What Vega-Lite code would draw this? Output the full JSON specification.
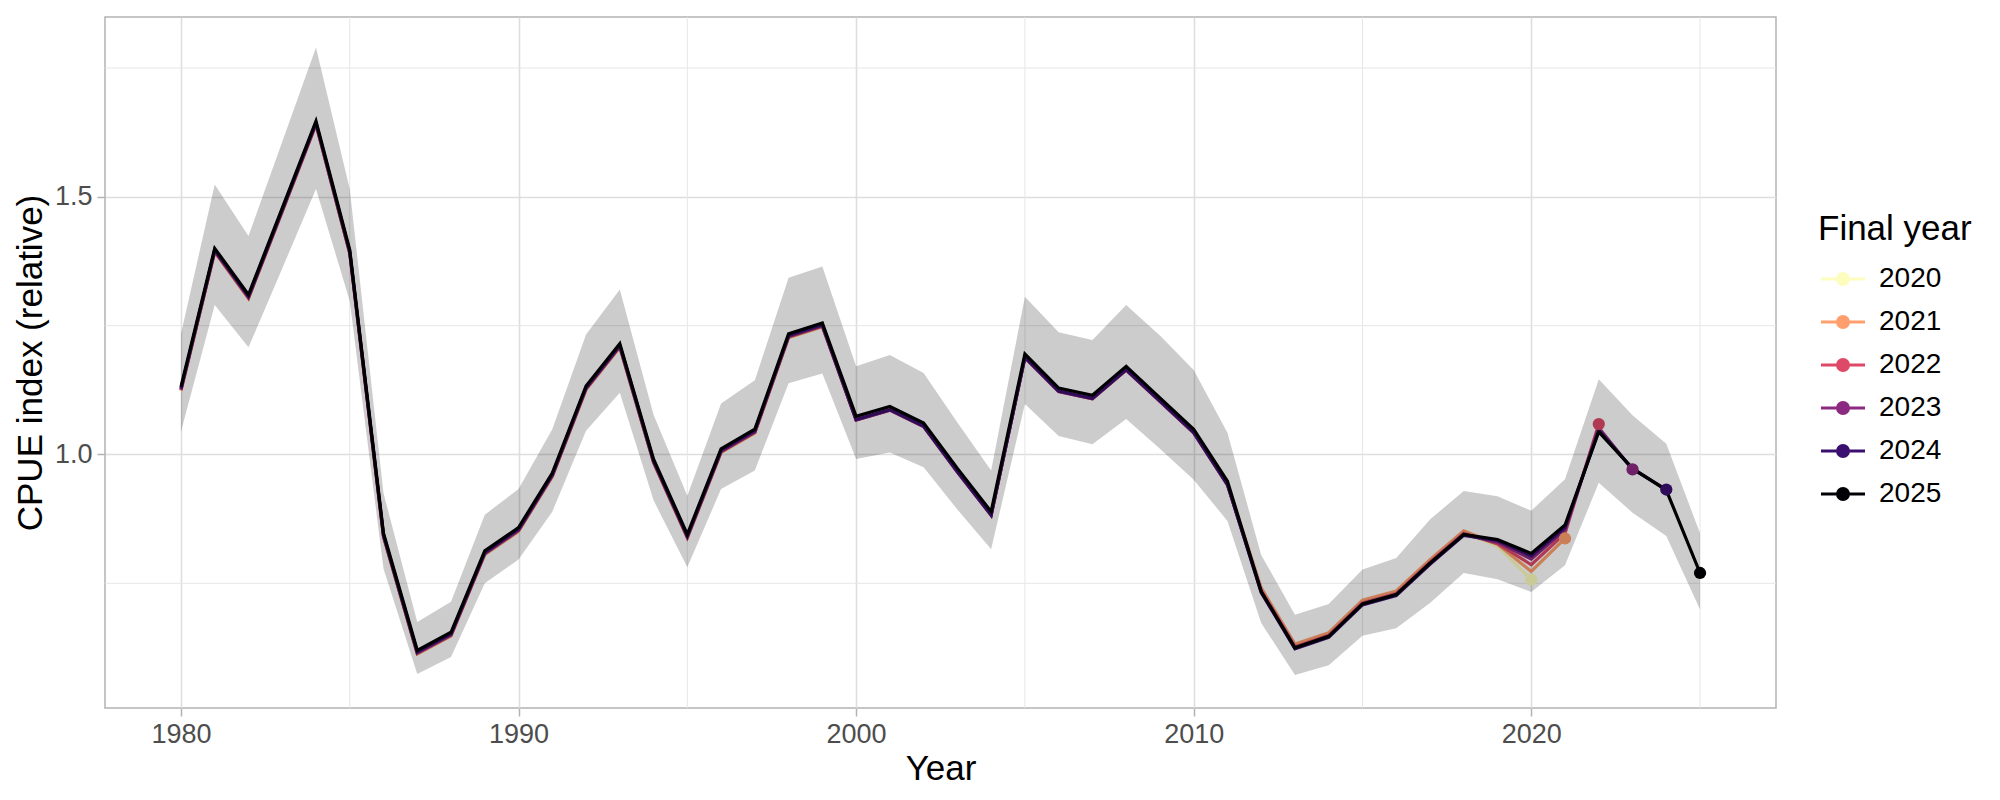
{
  "$schema": "https://vega.github.io/schema/vega-lite/v6.json",
  "autosize": {"type": "none"},
  "padding": {"left": 105, "top": 17, "right": 224, "bottom": 92},
  "width": 1671,
  "height": 691,
  "background": "white",
  "config": {
    "font": "Liberation Sans",
    "view": {"stroke": "#b3b3b3", "strokeWidth": 1.5}
  },
  "datasets": {
    "series": [
      {"year": 1980, "final": 2020, "cpue": 1.123}, {"year": 1981, "final": 2020, "cpue": 1.392}, {"year": 1982, "final": 2020, "cpue": 1.302}, {"year": 1983, "final": 2020, "cpue": 1.470}, {"year": 1984, "final": 2020, "cpue": 1.639}, {"year": 1985, "final": 2020, "cpue": 1.389}, {"year": 1986, "final": 2020, "cpue": 0.839}, {"year": 1987, "final": 2020, "cpue": 0.612}, {"year": 1988, "final": 2020, "cpue": 0.647}, {"year": 1989, "final": 2020, "cpue": 0.805}, {"year": 1990, "final": 2020, "cpue": 0.850}, {"year": 1991, "final": 2020, "cpue": 0.956}, {"year": 1992, "final": 2020, "cpue": 1.125}, {"year": 1993, "final": 2020, "cpue": 1.207}, {"year": 1994, "final": 2020, "cpue": 0.983}, {"year": 1995, "final": 2020, "cpue": 0.837}, {"year": 1996, "final": 2020, "cpue": 1.003}, {"year": 1997, "final": 2020, "cpue": 1.041}, {"year": 1998, "final": 2020, "cpue": 1.226}, {"year": 1999, "final": 2020, "cpue": 1.247}, {"year": 2000, "final": 2020, "cpue": 1.068}, {"year": 2001, "final": 2020, "cpue": 1.087}, {"year": 2002, "final": 2020, "cpue": 1.055}, {"year": 2003, "final": 2020, "cpue": 0.967}, {"year": 2004, "final": 2020, "cpue": 0.883}, {"year": 2005, "final": 2020, "cpue": 1.189}, {"year": 2006, "final": 2020, "cpue": 1.123}, {"year": 2007, "final": 2020, "cpue": 1.109}, {"year": 2008, "final": 2020, "cpue": 1.165}, {"year": 2009, "final": 2020, "cpue": 1.104}, {"year": 2010, "final": 2020, "cpue": 1.043}, {"year": 2011, "final": 2020, "cpue": 0.942}, {"year": 2012, "final": 2020, "cpue": 0.738}, {"year": 2013, "final": 2020, "cpue": 0.629}, {"year": 2014, "final": 2020, "cpue": 0.651}, {"year": 2015, "final": 2020, "cpue": 0.714}, {"year": 2016, "final": 2020, "cpue": 0.732}, {"year": 2017, "final": 2020, "cpue": 0.793}, {"year": 2018, "final": 2020, "cpue": 0.849}, {"year": 2019, "final": 2020, "cpue": 0.822}, {"year": 2020, "final": 2020, "cpue": 0.757},
      {"year": 1980, "final": 2021, "cpue": 1.124}, {"year": 1981, "final": 2021, "cpue": 1.393}, {"year": 1982, "final": 2021, "cpue": 1.303}, {"year": 1983, "final": 2021, "cpue": 1.471}, {"year": 1984, "final": 2021, "cpue": 1.640}, {"year": 1985, "final": 2021, "cpue": 1.390}, {"year": 1986, "final": 2021, "cpue": 0.840}, {"year": 1987, "final": 2021, "cpue": 0.613}, {"year": 1988, "final": 2021, "cpue": 0.648}, {"year": 1989, "final": 2021, "cpue": 0.806}, {"year": 1990, "final": 2021, "cpue": 0.851}, {"year": 1991, "final": 2021, "cpue": 0.957}, {"year": 1992, "final": 2021, "cpue": 1.126}, {"year": 1993, "final": 2021, "cpue": 1.208}, {"year": 1994, "final": 2021, "cpue": 0.984}, {"year": 1995, "final": 2021, "cpue": 0.838}, {"year": 1996, "final": 2021, "cpue": 1.004}, {"year": 1997, "final": 2021, "cpue": 1.042}, {"year": 1998, "final": 2021, "cpue": 1.227}, {"year": 1999, "final": 2021, "cpue": 1.248}, {"year": 2000, "final": 2021, "cpue": 1.069}, {"year": 2001, "final": 2021, "cpue": 1.088}, {"year": 2002, "final": 2021, "cpue": 1.056}, {"year": 2003, "final": 2021, "cpue": 0.968}, {"year": 2004, "final": 2021, "cpue": 0.884}, {"year": 2005, "final": 2021, "cpue": 1.190}, {"year": 2006, "final": 2021, "cpue": 1.124}, {"year": 2007, "final": 2021, "cpue": 1.110}, {"year": 2008, "final": 2021, "cpue": 1.166}, {"year": 2009, "final": 2021, "cpue": 1.105}, {"year": 2010, "final": 2021, "cpue": 1.044}, {"year": 2011, "final": 2021, "cpue": 0.943}, {"year": 2012, "final": 2021, "cpue": 0.741}, {"year": 2013, "final": 2021, "cpue": 0.632}, {"year": 2014, "final": 2021, "cpue": 0.654}, {"year": 2015, "final": 2021, "cpue": 0.717}, {"year": 2016, "final": 2021, "cpue": 0.735}, {"year": 2017, "final": 2021, "cpue": 0.796}, {"year": 2018, "final": 2021, "cpue": 0.852}, {"year": 2019, "final": 2021, "cpue": 0.826}, {"year": 2020, "final": 2021, "cpue": 0.773}, {"year": 2021, "final": 2021, "cpue": 0.837},
      {"year": 1980, "final": 2022, "cpue": 1.125}, {"year": 1981, "final": 2022, "cpue": 1.394}, {"year": 1982, "final": 2022, "cpue": 1.304}, {"year": 1983, "final": 2022, "cpue": 1.472}, {"year": 1984, "final": 2022, "cpue": 1.641}, {"year": 1985, "final": 2022, "cpue": 1.391}, {"year": 1986, "final": 2022, "cpue": 0.841}, {"year": 1987, "final": 2022, "cpue": 0.614}, {"year": 1988, "final": 2022, "cpue": 0.649}, {"year": 1989, "final": 2022, "cpue": 0.807}, {"year": 1990, "final": 2022, "cpue": 0.852}, {"year": 1991, "final": 2022, "cpue": 0.958}, {"year": 1992, "final": 2022, "cpue": 1.127}, {"year": 1993, "final": 2022, "cpue": 1.209}, {"year": 1994, "final": 2022, "cpue": 0.985}, {"year": 1995, "final": 2022, "cpue": 0.839}, {"year": 1996, "final": 2022, "cpue": 1.005}, {"year": 1997, "final": 2022, "cpue": 1.043}, {"year": 1998, "final": 2022, "cpue": 1.228}, {"year": 1999, "final": 2022, "cpue": 1.249}, {"year": 2000, "final": 2022, "cpue": 1.067}, {"year": 2001, "final": 2022, "cpue": 1.086}, {"year": 2002, "final": 2022, "cpue": 1.054}, {"year": 2003, "final": 2022, "cpue": 0.966}, {"year": 2004, "final": 2022, "cpue": 0.882}, {"year": 2005, "final": 2022, "cpue": 1.188}, {"year": 2006, "final": 2022, "cpue": 1.122}, {"year": 2007, "final": 2022, "cpue": 1.108}, {"year": 2008, "final": 2022, "cpue": 1.164}, {"year": 2009, "final": 2022, "cpue": 1.103}, {"year": 2010, "final": 2022, "cpue": 1.042}, {"year": 2011, "final": 2022, "cpue": 0.941}, {"year": 2012, "final": 2022, "cpue": 0.736}, {"year": 2013, "final": 2022, "cpue": 0.627}, {"year": 2014, "final": 2022, "cpue": 0.649}, {"year": 2015, "final": 2022, "cpue": 0.712}, {"year": 2016, "final": 2022, "cpue": 0.730}, {"year": 2017, "final": 2022, "cpue": 0.791}, {"year": 2018, "final": 2022, "cpue": 0.847}, {"year": 2019, "final": 2022, "cpue": 0.827}, {"year": 2020, "final": 2022, "cpue": 0.786}, {"year": 2021, "final": 2022, "cpue": 0.847}, {"year": 2022, "final": 2022, "cpue": 1.059},
      {"year": 1980, "final": 2023, "cpue": 1.126}, {"year": 1981, "final": 2023, "cpue": 1.395}, {"year": 1982, "final": 2023, "cpue": 1.305}, {"year": 1983, "final": 2023, "cpue": 1.473}, {"year": 1984, "final": 2023, "cpue": 1.642}, {"year": 1985, "final": 2023, "cpue": 1.392}, {"year": 1986, "final": 2023, "cpue": 0.842}, {"year": 1987, "final": 2023, "cpue": 0.615}, {"year": 1988, "final": 2023, "cpue": 0.650}, {"year": 1989, "final": 2023, "cpue": 0.808}, {"year": 1990, "final": 2023, "cpue": 0.853}, {"year": 1991, "final": 2023, "cpue": 0.959}, {"year": 1992, "final": 2023, "cpue": 1.128}, {"year": 1993, "final": 2023, "cpue": 1.210}, {"year": 1994, "final": 2023, "cpue": 0.986}, {"year": 1995, "final": 2023, "cpue": 0.840}, {"year": 1996, "final": 2023, "cpue": 1.006}, {"year": 1997, "final": 2023, "cpue": 1.044}, {"year": 1998, "final": 2023, "cpue": 1.229}, {"year": 1999, "final": 2023, "cpue": 1.250}, {"year": 2000, "final": 2023, "cpue": 1.067}, {"year": 2001, "final": 2023, "cpue": 1.086}, {"year": 2002, "final": 2023, "cpue": 1.054}, {"year": 2003, "final": 2023, "cpue": 0.966}, {"year": 2004, "final": 2023, "cpue": 0.882}, {"year": 2005, "final": 2023, "cpue": 1.188}, {"year": 2006, "final": 2023, "cpue": 1.122}, {"year": 2007, "final": 2023, "cpue": 1.108}, {"year": 2008, "final": 2023, "cpue": 1.164}, {"year": 2009, "final": 2023, "cpue": 1.103}, {"year": 2010, "final": 2023, "cpue": 1.042}, {"year": 2011, "final": 2023, "cpue": 0.941}, {"year": 2012, "final": 2023, "cpue": 0.734}, {"year": 2013, "final": 2023, "cpue": 0.625}, {"year": 2014, "final": 2023, "cpue": 0.647}, {"year": 2015, "final": 2023, "cpue": 0.710}, {"year": 2016, "final": 2023, "cpue": 0.728}, {"year": 2017, "final": 2023, "cpue": 0.789}, {"year": 2018, "final": 2023, "cpue": 0.845}, {"year": 2019, "final": 2023, "cpue": 0.830}, {"year": 2020, "final": 2023, "cpue": 0.797}, {"year": 2021, "final": 2023, "cpue": 0.854}, {"year": 2022, "final": 2023, "cpue": 1.052}, {"year": 2023, "final": 2023, "cpue": 0.971},
      {"year": 1980, "final": 2024, "cpue": 1.128}, {"year": 1981, "final": 2024, "cpue": 1.397}, {"year": 1982, "final": 2024, "cpue": 1.307}, {"year": 1983, "final": 2024, "cpue": 1.475}, {"year": 1984, "final": 2024, "cpue": 1.644}, {"year": 1985, "final": 2024, "cpue": 1.394}, {"year": 1986, "final": 2024, "cpue": 0.844}, {"year": 1987, "final": 2024, "cpue": 0.617}, {"year": 1988, "final": 2024, "cpue": 0.652}, {"year": 1989, "final": 2024, "cpue": 0.810}, {"year": 1990, "final": 2024, "cpue": 0.855}, {"year": 1991, "final": 2024, "cpue": 0.961}, {"year": 1992, "final": 2024, "cpue": 1.130}, {"year": 1993, "final": 2024, "cpue": 1.212}, {"year": 1994, "final": 2024, "cpue": 0.988}, {"year": 1995, "final": 2024, "cpue": 0.842}, {"year": 1996, "final": 2024, "cpue": 1.008}, {"year": 1997, "final": 2024, "cpue": 1.046}, {"year": 1998, "final": 2024, "cpue": 1.231}, {"year": 1999, "final": 2024, "cpue": 1.252}, {"year": 2000, "final": 2024, "cpue": 1.068}, {"year": 2001, "final": 2024, "cpue": 1.087}, {"year": 2002, "final": 2024, "cpue": 1.055}, {"year": 2003, "final": 2024, "cpue": 0.967}, {"year": 2004, "final": 2024, "cpue": 0.883}, {"year": 2005, "final": 2024, "cpue": 1.189}, {"year": 2006, "final": 2024, "cpue": 1.123}, {"year": 2007, "final": 2024, "cpue": 1.109}, {"year": 2008, "final": 2024, "cpue": 1.165}, {"year": 2009, "final": 2024, "cpue": 1.104}, {"year": 2010, "final": 2024, "cpue": 1.043}, {"year": 2011, "final": 2024, "cpue": 0.942}, {"year": 2012, "final": 2024, "cpue": 0.732}, {"year": 2013, "final": 2024, "cpue": 0.623}, {"year": 2014, "final": 2024, "cpue": 0.645}, {"year": 2015, "final": 2024, "cpue": 0.708}, {"year": 2016, "final": 2024, "cpue": 0.726}, {"year": 2017, "final": 2024, "cpue": 0.787}, {"year": 2018, "final": 2024, "cpue": 0.843}, {"year": 2019, "final": 2024, "cpue": 0.833}, {"year": 2020, "final": 2024, "cpue": 0.803}, {"year": 2021, "final": 2024, "cpue": 0.858}, {"year": 2022, "final": 2024, "cpue": 1.047}, {"year": 2023, "final": 2024, "cpue": 0.972}, {"year": 2024, "final": 2024, "cpue": 0.932},
      {"year": 1980, "final": 2025, "cpue": 1.131}, {"year": 1981, "final": 2025, "cpue": 1.400}, {"year": 1982, "final": 2025, "cpue": 1.310}, {"year": 1983, "final": 2025, "cpue": 1.478}, {"year": 1984, "final": 2025, "cpue": 1.647}, {"year": 1985, "final": 2025, "cpue": 1.397}, {"year": 1986, "final": 2025, "cpue": 0.847}, {"year": 1987, "final": 2025, "cpue": 0.620}, {"year": 1988, "final": 2025, "cpue": 0.655}, {"year": 1989, "final": 2025, "cpue": 0.813}, {"year": 1990, "final": 2025, "cpue": 0.858}, {"year": 1991, "final": 2025, "cpue": 0.964}, {"year": 1992, "final": 2025, "cpue": 1.133}, {"year": 1993, "final": 2025, "cpue": 1.215}, {"year": 1994, "final": 2025, "cpue": 0.991}, {"year": 1995, "final": 2025, "cpue": 0.845}, {"year": 1996, "final": 2025, "cpue": 1.011}, {"year": 1997, "final": 2025, "cpue": 1.049}, {"year": 1998, "final": 2025, "cpue": 1.234}, {"year": 1999, "final": 2025, "cpue": 1.255}, {"year": 2000, "final": 2025, "cpue": 1.074}, {"year": 2001, "final": 2025, "cpue": 1.093}, {"year": 2002, "final": 2025, "cpue": 1.061}, {"year": 2003, "final": 2025, "cpue": 0.973}, {"year": 2004, "final": 2025, "cpue": 0.889}, {"year": 2005, "final": 2025, "cpue": 1.195}, {"year": 2006, "final": 2025, "cpue": 1.129}, {"year": 2007, "final": 2025, "cpue": 1.115}, {"year": 2008, "final": 2025, "cpue": 1.171}, {"year": 2009, "final": 2025, "cpue": 1.110}, {"year": 2010, "final": 2025, "cpue": 1.049}, {"year": 2011, "final": 2025, "cpue": 0.948}, {"year": 2012, "final": 2025, "cpue": 0.734}, {"year": 2013, "final": 2025, "cpue": 0.625}, {"year": 2014, "final": 2025, "cpue": 0.647}, {"year": 2015, "final": 2025, "cpue": 0.710}, {"year": 2016, "final": 2025, "cpue": 0.728}, {"year": 2017, "final": 2025, "cpue": 0.789}, {"year": 2018, "final": 2025, "cpue": 0.845}, {"year": 2019, "final": 2025, "cpue": 0.835}, {"year": 2020, "final": 2025, "cpue": 0.808}, {"year": 2021, "final": 2025, "cpue": 0.863}, {"year": 2022, "final": 2025, "cpue": 1.044}, {"year": 2023, "final": 2025, "cpue": 0.973}, {"year": 2024, "final": 2025, "cpue": 0.931}, {"year": 2025, "final": 2025, "cpue": 0.770}
    ],
    "ribbon": [
      {"year": 1980, "lo": 1.044, "hi": 1.234}, {"year": 1981, "lo": 1.290, "hi": 1.524}, {"year": 1982, "lo": 1.208, "hi": 1.424}, {"year": 1983, "lo": 1.361, "hi": 1.607}, {"year": 1984, "lo": 1.515, "hi": 1.790}, {"year": 1985, "lo": 1.298, "hi": 1.515}, {"year": 1986, "lo": 0.778, "hi": 0.925}, {"year": 1987, "lo": 0.574, "hi": 0.675}, {"year": 1988, "lo": 0.607, "hi": 0.714}, {"year": 1989, "lo": 0.750, "hi": 0.883}, {"year": 1990, "lo": 0.796, "hi": 0.933}, {"year": 1991, "lo": 0.889, "hi": 1.049}, {"year": 1992, "lo": 1.046, "hi": 1.233}, {"year": 1993, "lo": 1.120, "hi": 1.320}, {"year": 1994, "lo": 0.911, "hi": 1.077}, {"year": 1995, "lo": 0.781, "hi": 0.920}, {"year": 1996, "lo": 0.933, "hi": 1.099}, {"year": 1997, "lo": 0.969, "hi": 1.144}, {"year": 1998, "lo": 1.138, "hi": 1.343}, {"year": 1999, "lo": 1.157, "hi": 1.365}, {"year": 2000, "lo": 0.991, "hi": 1.171}, {"year": 2001, "lo": 1.004, "hi": 1.193}, {"year": 2002, "lo": 0.975, "hi": 1.158}, {"year": 2003, "lo": 0.893, "hi": 1.062}, {"year": 2004, "lo": 0.816, "hi": 0.969}, {"year": 2005, "lo": 1.098, "hi": 1.306}, {"year": 2006, "lo": 1.036, "hi": 1.237}, {"year": 2007, "lo": 1.020, "hi": 1.222}, {"year": 2008, "lo": 1.069, "hi": 1.290}, {"year": 2009, "lo": 1.011, "hi": 1.231}, {"year": 2010, "lo": 0.951, "hi": 1.164}, {"year": 2011, "lo": 0.871, "hi": 1.042}, {"year": 2012, "lo": 0.673, "hi": 0.805}, {"year": 2013, "lo": 0.572, "hi": 0.689}, {"year": 2014, "lo": 0.591, "hi": 0.710}, {"year": 2015, "lo": 0.648, "hi": 0.777}, {"year": 2016, "lo": 0.663, "hi": 0.799}, {"year": 2017, "lo": 0.712, "hi": 0.874}, {"year": 2018, "lo": 0.770, "hi": 0.929}, {"year": 2019, "lo": 0.758, "hi": 0.919}, {"year": 2020, "lo": 0.733, "hi": 0.891}, {"year": 2021, "lo": 0.785, "hi": 0.952}, {"year": 2022, "lo": 0.945, "hi": 1.146}, {"year": 2023, "lo": 0.887, "hi": 1.076}, {"year": 2024, "lo": 0.842, "hi": 1.021}, {"year": 2025, "lo": 0.699, "hi": 0.847}
    ],
    "minor_x": [{"year": 1985}, {"year": 1995}, {"year": 2005}, {"year": 2015}, {"year": 2025}],
    "minor_y": [{"cpue": 0.75}, {"cpue": 1.25}, {"cpue": 1.75}]
  },
  "layer": [
    {
      "data": {"name": "minor_x"},
      "mark": {"type": "rule", "color": "#e6e6e6", "strokeWidth": 1},
      "encoding": {
        "x": {"field": "year", "type": "quantitative", "scale": {"domain": [1977.75, 2027.25], "nice": false, "zero": false}}
      }
    },
    {
      "data": {"name": "minor_y"},
      "mark": {"type": "rule", "color": "#e6e6e6", "strokeWidth": 1},
      "encoding": {
        "y": {"field": "cpue", "type": "quantitative", "scale": {"domain": [0.508, 1.849], "nice": false, "zero": false}}
      }
    },
    {
      "data": {"name": "series"},
      "mark": {"type": "line", "strokeWidth": 3.2},
      "encoding": {
        "x": {
          "field": "year", "type": "quantitative", "title": "Year",
          "scale": {"domain": [1977.75, 2027.25], "nice": false, "zero": false},
          "axis": {
            "values": [1980, 1990, 2000, 2010, 2020], "format": "d",
            "grid": true, "gridColor": "#dedede", "gridWidth": 1.6,
            "domain": false, "tickColor": "#b3b3b3", "tickSize": 8, "tickWidth": 1.5,
            "labelFontSize": 27, "labelColor": "#4d4d4d", "labelPadding": 5,
            "titleFontSize": 35, "titleFontWeight": "normal", "titleColor": "black", "titlePadding": 4
          }
        },
        "y": {
          "field": "cpue", "type": "quantitative", "title": "CPUE index (relative)",
          "scale": {"domain": [0.508, 1.849], "nice": false, "zero": false},
          "axis": {
            "values": [1.0, 1.5], "format": ".1f",
            "grid": true, "gridColor": "#dedede", "gridWidth": 1.6,
            "domain": false, "tickColor": "#b3b3b3", "tickSize": 8, "tickWidth": 1.5,
            "labelFontSize": 27, "labelColor": "#4d4d4d", "labelPadding": 5,
            "titleFontSize": 35, "titleFontWeight": "normal", "titleColor": "black", "titlePadding": 6
          }
        },
        "color": {
          "field": "final", "type": "ordinal",
          "scale": {"domain": [2020, 2021, 2022, 2023, 2024, 2025], "range": ["#FCFDBF", "#FE9F6D", "#DE4968", "#8C2981", "#3B0F70", "#000004"]},
          "legend": {
            "title": "Final year",
            "orient": "none", "legendX": 1713, "legendY": 195,
            "padding": 0,
            "symbolType": "M-1,0L3,0M0.5,0A0.5,0.5 0 1,0 1.5,0A0.5,0.5 0 1,0 0.5,0",
            "symbolSize": 484, "symbolStrokeWidth": 3,
            "labelOffset": 33, "labelFontSize": 28, "labelColor": "black",
            "titleFontSize": 35, "titleFontWeight": "normal", "titleColor": "black",
            "titlePadding": 18, "rowPadding": 15,
            "encode": {
              "symbols": {
                "update": {
                  "fill": {"scale": "color", "field": "value"},
                  "stroke": {"scale": "color", "field": "value"},
                  "opacity": {"value": 1}
                }
              }
            }
          }
        }
      }
    },
    {
      "data": {"name": "series"},
      "transform": [{"filter": "datum.year == datum.final"}],
      "mark": {"type": "point", "filled": true, "size": 150, "opacity": 1},
      "encoding": {
        "x": {"field": "year", "type": "quantitative"},
        "y": {"field": "cpue", "type": "quantitative"},
        "color": {"field": "final", "type": "ordinal"}
      }
    },
    {
      "data": {"name": "ribbon"},
      "mark": {"type": "area", "color": "black", "opacity": 0.2},
      "encoding": {
        "x": {"field": "year", "type": "quantitative"},
        "y": {"field": "lo", "type": "quantitative"},
        "y2": {"field": "hi"}
      }
    }
  ]
}
